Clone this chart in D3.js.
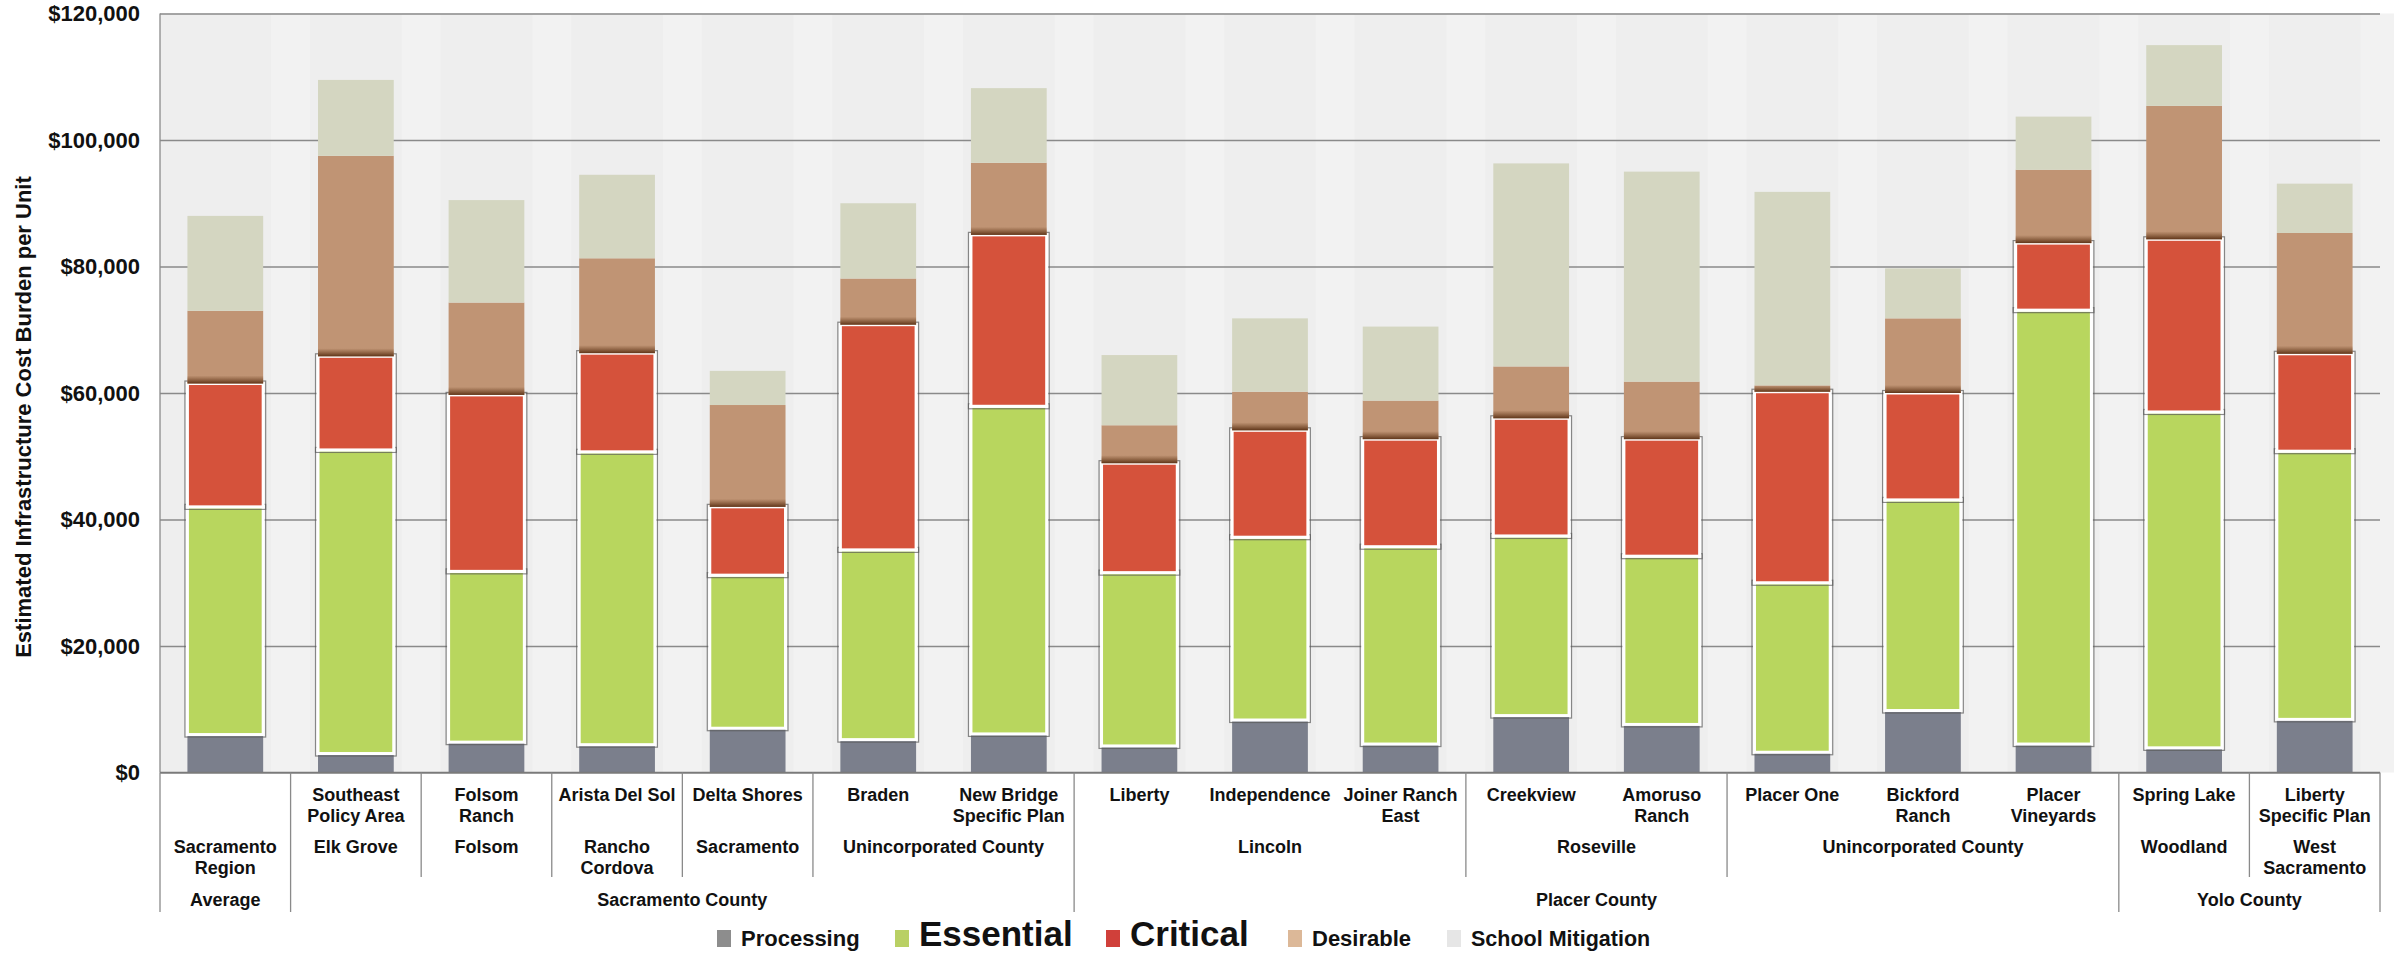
<!DOCTYPE html>
<html>
<head>
<meta charset="utf-8">
<script src="https://cdn.jsdelivr.net/npm/d3@7"></script>
<style>
  body { margin: 0; background: #fff; }
  svg { display: block; font-family: "Liberation Sans", Arial, sans-serif; font-weight: bold; }
</style>
</head>
<body>
<div id="chart"></div>
<script>
// Category levels (one entry per bar)
const projects = ["", "Southeast\nPolicy Area", "Folsom\nRanch", "Arista Del Sol", "Delta Shores",
  "Braden", "New Bridge\nSpecific Plan", "Liberty", "Independence", "Joiner Ranch\nEast",
  "Creekview", "Amoruso\nRanch", "Placer One", "Bickford\nRanch", "Placer\nVineyards",
  "Spring Lake", "Liberty\nSpecific Plan"];
const cities = ["Sacramento\nRegion", "Elk Grove", "Folsom", "Rancho\nCordova", "Sacramento",
  "Unincorporated County", "Unincorporated County", "Lincoln", "Lincoln", "Lincoln",
  "Roseville", "Roseville", "Unincorporated County", "Unincorporated County", "Unincorporated County",
  "Woodland", "West\nSacramento"];
const counties = ["Average",
  "Sacramento County", "Sacramento County", "Sacramento County", "Sacramento County", "Sacramento County", "Sacramento County",
  "Placer County", "Placer County", "Placer County", "Placer County", "Placer County", "Placer County", "Placer County", "Placer County",
  "Yolo County", "Yolo County"];

// Cost components per unit ($)
const processing = [6000, 3000, 4800, 4400, 7000, 5200, 6100, 4200, 8300, 4500, 9000, 7600, 3200, 9800, 4500, 3900, 8400];
const essential  = [36000, 48000, 27000, 46300, 24200, 30000, 51800, 27400, 28900, 31200, 28400, 26600, 26800, 33300, 68600, 53100, 42400];
const critical   = [19500, 14800, 27900, 15600, 10800, 35600, 27100, 17300, 16900, 17000, 18600, 18500, 30200, 16900, 10600, 27300, 15400];
const desirable  = [11500, 31700, 14600, 15000, 16100, 7300, 11400, 6000, 6100, 6100, 8200, 9100, 1000, 11800, 11600, 21100, 19100];
const school     = [15000, 12000, 16200, 13200, 5400, 11900, 11800, 11100, 11600, 11700, 32100, 33200, 30600, 7900, 8400, 9600, 7800];

const seriesKeys = ["Processing", "Essential", "Critical", "Desirable", "School Mitigation"];
const yTicks = [0, 20000, 40000, 60000, 80000, 100000, 120000];

const colors = {
  "Processing": "#7b7f8c",
  "Essential": "#b8d65e",
  "Critical": "#d5523b",
  "Desirable": "#c09474",
  "School Mitigation": "#d4d6c1"
};
const legendColors = {
  "Processing": "#8d8d8d",
  "Essential": "#b9d064",
  "Critical": "#d0403a",
  "Desirable": "#dcb898",
  "School Mitigation": "#e6e6e6"
};
const legendSizes = { "Processing": 22, "Essential": 35, "Critical": 35, "Desirable": 22, "School Mitigation": 21.5 };
// legend swatch left edges
const legendX = { "Processing": 717, "Essential": 895, "Critical": 1106, "Desirable": 1288, "School Mitigation": 1447 };

const width = 2394, height = 954;
const plot = { left: 160, right: 2380, top: 13.5, bottom: 772.5 };

const table = projects.map((p, i) => ({
  i,
  "Processing": processing[i],
  "Essential": essential[i],
  "Critical": critical[i],
  "Desirable": desirable[i],
  "School Mitigation": school[i]
}));

const svg = d3.select('#chart').append('svg')
  .attr('width', width)
  .attr('height', height);

const defs = svg.append('defs');
const shade = defs.append('linearGradient')
  .attr('id', 'desShade').attr('x1', 0).attr('x2', 0).attr('y1', 0).attr('y2', 1);
shade.append('stop').attr('offset', '0%').attr('stop-color', '#6b3f1e').attr('stop-opacity', 0);
shade.append('stop').attr('offset', '100%').attr('stop-color', '#5a3014').attr('stop-opacity', 0.95);

const x = d3.scaleBand()
  .domain(d3.range(projects.length))
  .range([plot.left, plot.right])
  .paddingInner(0.42)
  .paddingOuter(0.21);

const y = d3.scaleLinear()
  .domain([0, 120000])
  .range([plot.bottom, plot.top]);

// plot background
svg.append('rect')
  .attr('x', plot.left).attr('y', plot.top)
  .attr('width', plot.right - plot.left).attr('height', plot.bottom - plot.top)
  .attr('fill', '#eeeeee');

// slightly lighter strips in the gaps between bars
svg.append('g').selectAll('rect')
  .data(d3.range(projects.length))
  .join('rect')
    .attr('x', d => x(d) + x.bandwidth() + 8)
    .attr('y', plot.top)
    .attr('width', x.step() - x.bandwidth() - 16)
    .attr('height', plot.bottom - plot.top)
    .attr('fill', '#f2f2f2');

// y axis with gridlines
const yAxis = svg.append('g')
  .attr('transform', `translate(${plot.left},0)`)
  .call(d3.axisLeft(y)
    .tickValues(yTicks)
    .tickSize(-(plot.right - plot.left))
    .tickPadding(20)
    .tickFormat(d3.format('$,')));
yAxis.select('.domain').remove();
yAxis.selectAll('line').attr('stroke', '#8a8a8a').attr('stroke-width', 1.3);
yAxis.selectAll('text')
  .attr('font-size', 22)
  .attr('font-weight', 'bold')
  .attr('fill', '#111')
  .attr('font-family', '"Liberation Sans", Arial, sans-serif');

// left border of plot
svg.append('line')
  .attr('x1', plot.left).attr('x2', plot.left)
  .attr('y1', plot.top).attr('y2', plot.bottom)
  .attr('stroke', '#8a8a8a').attr('stroke-width', 1.3);

svg.append('text')
  .attr('transform', `translate(31,417) rotate(-90)`)
  .attr('text-anchor', 'middle')
  .attr('font-size', 22)
  .attr('fill', '#111')
  .text('Estimated Infrastructure Cost Burden per Unit');

// stacked bars
const stacked = d3.stack().keys(seriesKeys)(table);
const bars = svg.append('g');

stacked.forEach(layer => {
  const key = layer.key;
  const boxed = key === 'Essential' || key === 'Critical';
  const g = bars.append('g');

  if (boxed) {
    g.selectAll('rect.outline')
      .data(layer)
      .join('rect')
        .attr('class', 'outline')
        .attr('x', d => x(d.data.i) - 2.5)
        .attr('y', d => y(d[1]) - 2.5)
        .attr('width', x.bandwidth() + 5)
        .attr('height', d => y(d[0]) - y(d[1]) + 5)
        .attr('fill', 'none')
        .attr('stroke', '#5a5a5a')
        .attr('stroke-opacity', 0.7)
        .attr('stroke-width', 1.2);
  }

  g.selectAll('rect.seg')
    .data(layer)
    .join('rect')
      .attr('class', 'seg')
      .attr('x', d => x(d.data.i))
      .attr('y', d => y(d[1]))
      .attr('width', x.bandwidth())
      .attr('height', d => y(d[0]) - y(d[1]))
      .attr('fill', colors[key])
      .attr('stroke', boxed ? '#fff' : 'none')
      .attr('stroke-width', boxed ? 3 : 0);

  if (key === 'Desirable') {
    g.selectAll('rect.shade')
      .data(layer)
      .join('rect')
        .attr('class', 'shade')
        .attr('x', d => x(d.data.i))
        .attr('y', d => y(d[0]) - Math.min(8, y(d[0]) - y(d[1])))
        .attr('width', x.bandwidth())
        .attr('height', d => Math.min(8, y(d[0]) - y(d[1])))
        .attr('fill', 'url(#desShade)');
  }
});

// base line
svg.append('line')
  .attr('x1', plot.left).attr('x2', plot.right)
  .attr('y1', plot.bottom).attr('y2', plot.bottom)
  .attr('stroke', '#7a7a7a').attr('stroke-width', 1.5);

// ==== Multi-level category labels ====
const edge = k => plot.left + k * x.step();
const labels = svg.append('g').attr('fill', '#111').attr('font-size', 18).attr('text-anchor', 'middle');

function multiline(sel, str, cx, baseY) {
  const t = sel.append('text').attr('x', cx).attr('y', baseY);
  str.split('\n').forEach((line, j) => {
    t.append('tspan').attr('x', cx).attr('dy', j === 0 ? 0 : 20.5).text(line);
  });
}

// group separators
for (let k = 0; k <= projects.length; k++) {
  let bottom = null;
  if (k === 0 || k === projects.length || counties[k] !== counties[k - 1]) bottom = 912;
  else if (cities[k] !== cities[k - 1]) bottom = 877;
  if (bottom) {
    labels.append('line')
      .attr('x1', edge(k)).attr('x2', edge(k))
      .attr('y1', plot.bottom).attr('y2', bottom)
      .attr('stroke', '#8a8a8a').attr('stroke-width', 1.3);
  }
}

// level 1: project names
projects.forEach((p, i) => {
  if (p) multiline(labels, p, x(i) + x.bandwidth() / 2, 801);
});

// consecutive runs helper
function runs(keyFn) {
  const out = [];
  projects.forEach((p, i) => {
    const k = keyFn(i);
    const last = out[out.length - 1];
    if (last && last.key === k) last.end = i;
    else out.push({ key: k, start: i, end: i });
  });
  return out;
}

// level 2: cities
runs(i => counties[i] + '|' + cities[i]).forEach(r => {
  multiline(labels, cities[r.start], (edge(r.start) + edge(r.end + 1)) / 2, 853);
});

// level 3: counties
runs(i => counties[i]).forEach(r => {
  multiline(labels, counties[r.start], (edge(r.start) + edge(r.end + 1)) / 2, 905.5);
});

// ==== Legend ====
const legend = svg.append('g').attr('fill', '#111');
seriesKeys.forEach(key => {
  const lx = legendX[key];
  legend.append('rect')
    .attr('x', lx).attr('y', 930)
    .attr('width', 14).attr('height', 17)
    .attr('fill', legendColors[key]);
  legend.append('text')
    .attr('x', lx + 24).attr('y', 946)
    .attr('font-size', legendSizes[key])
    .text(key);
});
</script>
</body>
</html>
